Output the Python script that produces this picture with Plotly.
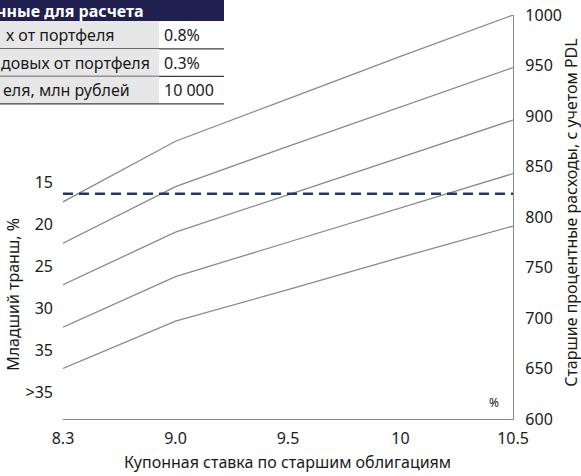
import plotly.graph_objects as go

# ---- data ----
coupon_labels = ["8.3", "9.0", "9.5", "10", "10.5"]
senior_expenses = {
    "15": [815, 875, 917, 959, 1000],
    "20": [774, 830, 870, 909, 948],
    "25": [733, 785, 822, 859, 896],
    "30": [691, 741, 775, 809, 843],
    "35": [650, 697, 728, 760, 791],
}
threshold = 823
junior_tick_labels = ["15", "20", "25", "30", "35", ">35"]
right_tick_values = [600, 650, 700, 750, 800, 850, 900, 950, 1000]

table_header = "нные для расчета"
table_labels = ["х от портфеля", "довых от портфеля", "еля, млн рублей"]
table_values = ["0.8%", "0.3%", "10 000"]

# ---- layout constants (pixels) ----
W, H = 581, 476
L, R, T, B = 63, 513, 15, 419.3
pw, ph = R - L, B - T


def px(x):
    return (x - L) / pw


def py(y):
    return (B - y) / ph


FONT = "Noto Sans"
TXT = "#1a1a1a"
GRAY = "#8a8a8a"
FS = 16

fig = go.Figure()
for name, vals in senior_expenses.items():
    fig.add_trace(go.Scatter(
        x=coupon_labels, y=vals, mode="lines", name=name,
        line=dict(color=GRAY, width=1.3), yaxis="y", showlegend=False,
        hoverinfo="skip"))

# left junior tranche labels: index positions (invisible carrier for the left axis)
left_idx = list(range(len(junior_tick_labels)))
fig.add_trace(go.Scatter(x=[coupon_labels[0]] * len(left_idx), y=left_idx, yaxis="y2",
                         mode="markers", marker=dict(opacity=0, size=1),
                         showlegend=False, hoverinfo="skip"))

first_series = list(senior_expenses.values())[0]
shapes = []
shapes.append(dict(type="line", xref="x", yref="y", x0=coupon_labels[0], x1=coupon_labels[0],
                   y0=right_tick_values[0], y1=first_series[0],
                   line=dict(color=GRAY, width=1.3)))
shapes.append(dict(type="line", xref="paper", yref="y", x0=0, x1=1, y0=threshold, y1=threshold,
                   line=dict(color="#1f3864", width=2.6, dash="10px,6px")))

# ---- table (cropped at left) ----
tbl_right = 224
col_split = 159
hdr_bottom = 21
row_lines = [49, 76.5, 104]
shapes.append(dict(type="rect", xref="paper", yref="paper", x0=px(-5), x1=px(tbl_right),
                   y0=py(hdr_bottom), y1=py(-5), fillcolor="#1f2050", line=dict(width=0), layer="above"))
prev = hdr_bottom
for yb in row_lines:
    shapes.append(dict(type="rect", xref="paper", yref="paper", x0=px(-5), x1=px(col_split),
                       y0=py(yb), y1=py(prev), fillcolor="#e7e7e7", line=dict(width=0)))
    shapes.append(dict(type="line", xref="paper", yref="paper", x0=px(-5), x1=px(tbl_right),
                       y0=py(yb), y1=py(yb), line=dict(color="#404040", width=1.2)))
    prev = yb

annotations = []
annotations.append(dict(xref="paper", yref="paper", x=px(146), y=py(10.5), xanchor="right",
                        yanchor="middle", text="<b>" + table_header + "</b>", showarrow=False,
                        font=dict(family=FONT, size=FS, color="white")))
label_ends = [117, 152, 132]
prev = hdr_bottom
for lab, val, yb, xe in zip(table_labels, table_values, row_lines, label_ends):
    yc = (prev + yb) / 2
    annotations.append(dict(xref="paper", yref="paper", x=px(xe), y=py(yc), xanchor="right",
                            yanchor="middle", text=lab, showarrow=False,
                            font=dict(family=FONT, size=FS, color=TXT)))
    annotations.append(dict(xref="paper", yref="paper", x=px(162), y=py(yc), xanchor="left",
                            yanchor="middle", text=val, showarrow=False,
                            font=dict(family=FONT, size=FS, color=TXT)))
    prev = yb

# axis titles
annotations.append(dict(xref="paper", yref="paper", x=px(287), y=py(462), xanchor="center",
                        yanchor="middle", text="Купонная ставка по старшим облигациям",
                        showarrow=False, font=dict(family=FONT, size=FS, color=TXT)))
annotations.append(dict(xref="paper", yref="paper", x=px(13), y=py(295), xanchor="center",
                        yanchor="middle", text="Младший транш, %", textangle=-90,
                        showarrow=False, font=dict(family=FONT, size=FS, color=TXT)))
annotations.append(dict(xref="paper", yref="paper", x=px(571), y=py(213), xanchor="center",
                        yanchor="middle", text="Старшие процентные расходы, с учетом PDL",
                        textangle=-90, showarrow=False, font=dict(family=FONT, size=FS, color=TXT)))
annotations.append(dict(xref="paper", yref="paper", x=px(494), y=py(403), xanchor="center",
                        yanchor="middle", text="%", showarrow=False,
                        font=dict(family=FONT, size=12, color=TXT)))

spacing = 42.0
top_units = (182.7 - T) / spacing
span_units = ph / spacing

fig.update_layout(
    width=W, height=H,
    margin=dict(l=L, r=W - R, t=T, b=H - B, autoexpand=False),
    paper_bgcolor="white", plot_bgcolor="white",
    showlegend=False,
    shapes=shapes, annotations=annotations,
    xaxis=dict(type="category", categoryorder="array", categoryarray=coupon_labels,
               range=[0, len(coupon_labels) - 1], showgrid=False, zeroline=False,
               showline=True, linecolor=GRAY, linewidth=1.3, ticks="",
               tickfont=dict(family=FONT, size=FS, color=TXT), ticklabelstandoff=5),
    yaxis=dict(side="right", range=[right_tick_values[0], right_tick_values[-1]],
               tickvals=right_tick_values, showgrid=False, zeroline=False,
               showline=True, linecolor=GRAY, linewidth=1.3, ticks="",
               tickfont=dict(family=FONT, size=FS, color=TXT), ticklabelstandoff=8),
    yaxis2=dict(overlaying="y", side="left", anchor="x",
                range=[-top_units + span_units, -top_units],
                tickvals=left_idx, ticktext=junior_tick_labels,
                showgrid=False, zeroline=False, showline=False, ticks="",
                tickfont=dict(family=FONT, size=FS, color=TXT), ticklabelstandoff=9),
)

fig.write_html("out.html", config={"displayModeBar": False},
               post_script="document.body.style.margin='0';document.body.style.overflow='hidden';")
